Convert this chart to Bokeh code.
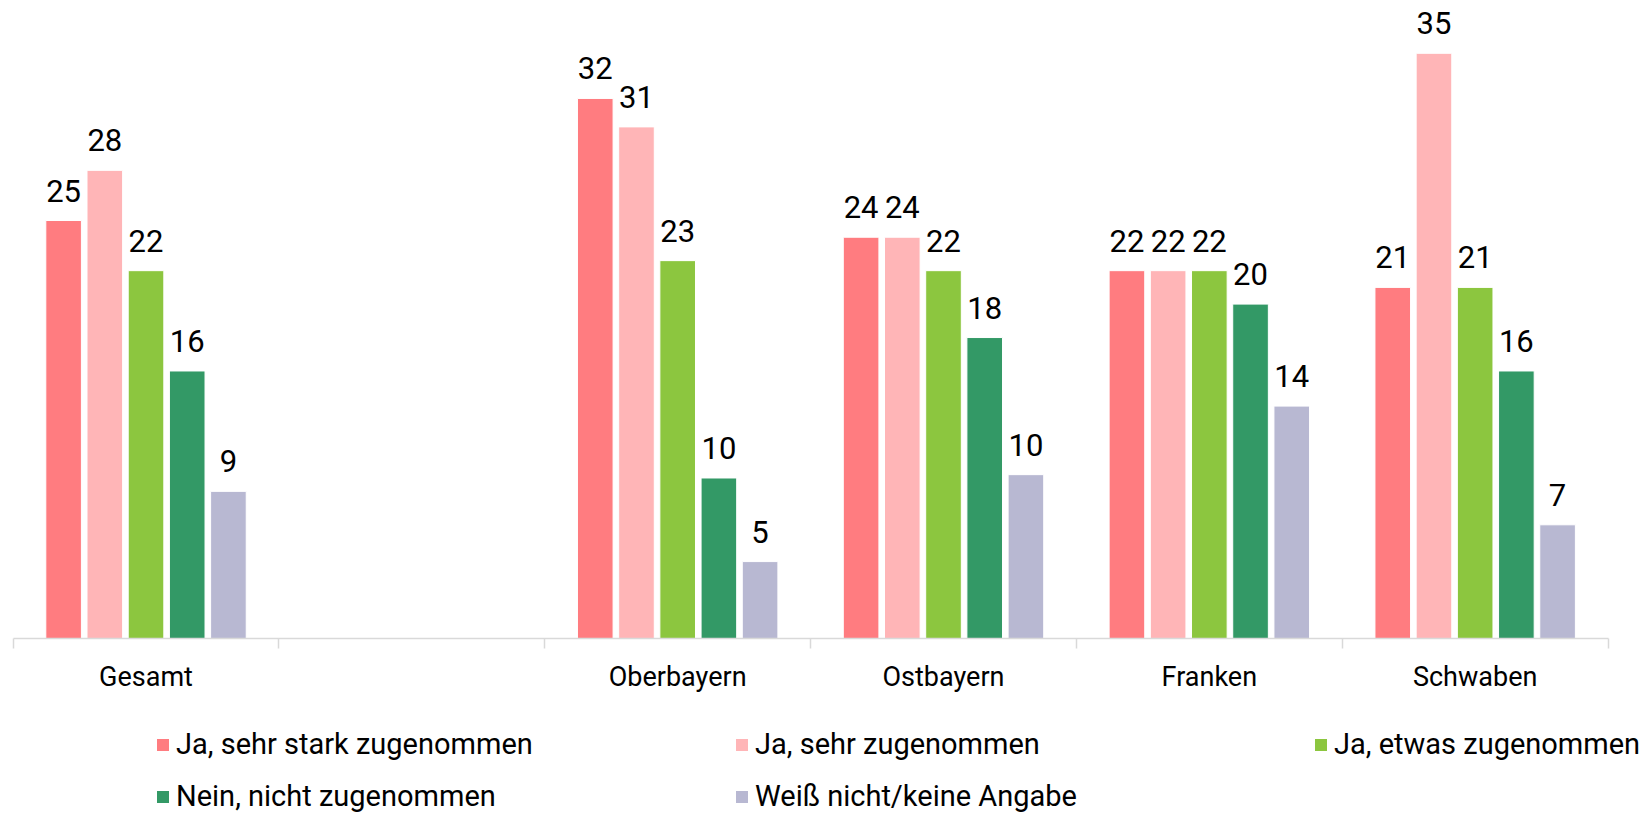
from bokeh.plotting import figure
from bokeh.layouts import column
from bokeh.models import ColumnDataSource, Range1d, FixedTicker, Legend, LegendItem
from bokeh.embed import file_html
from bokeh.resources import INLINE
from bokeh.core.properties import value

categories = ["Gesamt", "", "Oberbayern", "Ostbayern", "Franken", "Schwaben"]
series = ["Ja, sehr stark zugenommen", "Ja, sehr zugenommen", "Ja, etwas zugenommen",
          "Nein, nicht zugenommen", "Weiß nicht/keine Angabe"]
colors = ["#FF7C80", "#FFB5B7", "#8CC63F", "#339966", "#B8B8D2"]
sehr_stark = [25, None, 32.3, 24, 22, 21]
sehr = [28, None, 30.6, 24, 22, 35]
etwas = [22, None, 22.6, 22, 22, 21]
nein = [16, None, 9.6, 18, 20, 16]
weiss = [8.8, None, 4.6, 9.8, 13.9, 6.8]
values = [sehr_stark, sehr, etwas, nein, weiss]

PITCH = 0.155
BAR_W = 0.134
FONT = "Roboto"
W = 1642
CAT_PX = 265.83          # pixel width of one category slot
LEFT_PX = 12.6           # left edge of the axis in pixels

n = len(categories)
x0 = -LEFT_PX / CAT_PX
p = figure(width=W, height=700, output_backend="svg", toolbar_location=None,
           x_range=Range1d(x0, x0 + W / CAT_PX), y_range=Range1d(0, 37.68),
           min_border_left=0, min_border_right=0, min_border_top=8, min_border_bottom=62)
p.outline_line_color = None
p.grid.visible = False
p.yaxis.visible = False

for k, (name, col, vals) in enumerate(zip(series, colors, values)):
    xs, ys, ts = [], [], []
    for i, v in enumerate(vals):
        if v is None:
            continue
        xs.append(i + 0.5 + (k - 2) * PITCH)
        ys.append(v)
        ts.append(f"{v:.0f}")
    src = ColumnDataSource(dict(x=xs, top=ys, t=ts))
    p.vbar(x="x", top="top", bottom=0, width=BAR_W, source=src,
           fill_color=col, line_color="white", line_width=1)
    p.text(x="x", y="top", text="t", source=src, text_align="center",
           text_baseline="alphabetic", y_offset=-30, text_font=value(FONT),
           text_font_size="31px", text_color="#000000")

ax = p.xaxis[0]
ax.bounds = (0, n)
ax.ticker = FixedTicker(ticks=[i + 0.5 for i in range(n)], minor_ticks=list(range(n + 1)))
ax.major_label_overrides = {i + 0.5: c for i, c in enumerate(categories)}
ax.axis_line_color = "#D9D9D9"
ax.axis_line_width = 1.5
ax.major_tick_line_color = None
ax.major_tick_out = 0
ax.major_tick_in = 0
ax.minor_tick_line_color = "#D9D9D9"
ax.minor_tick_line_width = 1.5
ax.minor_tick_out = 10
ax.minor_tick_in = 0
ax.major_label_standoff = 12
ax.major_label_text_font = FONT
ax.major_label_text_font_size = "27px"
ax.major_label_text_color = "#000000"

# legend panel as a second figure below
lg = figure(width=W, height=114, output_backend="svg", toolbar_location=None,
            x_range=Range1d(0, 1), y_range=Range1d(0, 1),
            min_border_left=0, min_border_right=0, min_border_top=0, min_border_bottom=0)
lg.outline_line_color = None
lg.grid.visible = False
lg.axis.visible = False
leg_renderers = []
for c in colors:
    placeholder = ColumnDataSource(dict(x=[-5], top=[0]))  # off-view swatch source
    leg_renderers.append(lg.vbar(x="x", top="top", width=0.1, source=placeholder,
                                 fill_color=c, line_color=None))
legend = Legend(items=[LegendItem(label=s, renderers=[r]) for s, r in zip(series, leg_renderers)],
                ncols=3, location=(155, 1), orientation="horizontal",
                glyph_width=15, glyph_height=15, label_standoff=6,
                label_width=540, label_height=32, spacing=18, padding=0, margin=0,
                label_text_font=FONT, label_text_font_size="29px",
                label_text_color="#000000", label_text_baseline="middle",
                border_line_color=None, background_fill_alpha=0)
lg.add_layout(legend, "center")

layout = column(p, lg, spacing=0)
open("out.html", "w").write(file_html(layout, INLINE))
